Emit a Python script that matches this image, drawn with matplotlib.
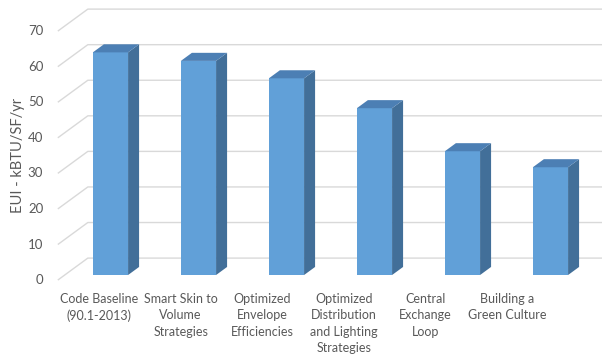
import numpy as np
import matplotlib
matplotlib.use("Agg")
import matplotlib.pyplot as plt
from matplotlib.patches import Polygon

categories = [
    "Code Baseline\n(90.1-2013)",
    "Smart Skin to\nVolume\nStrategies",
    "Optimized\nEnvelope\nEfficiencies",
    "Optimized\nDistribution\nand Lighting\nStrategies",
    "Central\nExchange\nLoop",
    "Building a\nGreen Culture",
]
eui = [62.6, 60.2, 55.3, 46.9, 34.8, 30.3]
yticks = [0, 10, 20, 30, 40, 50, 60, 70]
ylabel = "EUI - kBTU/SF/yr"

FRONT = "#61a0d8"
SIDE = "#426f99"
TOP = "#4c7fb4"
GRID = "#d9d9d9"
TEXT = "#595959"
FONT = "Lato"

# oblique depth of the floor, in data units, and where the bar fronts sit in it
DX, DY = 0.341, 6.18
TB = 0.23
BD = 0.367
W = 0.40
XL = -0.52


def proj(x, v, t):
    return x + DX * (t - TB), v + DY * (t - TB)


fig = plt.figure(figsize=(6.02, 3.58), dpi=100)
ax = fig.add_axes([0.0958, 0.2159, 0.9063, 0.766])
ax.set_xlim(-0.6, 5.6)
ax.set_ylim(-1.6, 75.5)
ax.axis("off")

# side wall + back wall gridlines
for v in yticks:
    x0, y0 = proj(XL, v, 0)
    x1, y1 = proj(XL, v, 1)
    ax.plot([x0, x1, 5.6], [y0, y1, y1], color=GRID, lw=1.0, zorder=1,
            solid_capstyle="butt", clip_on=False)
    ax.annotate(str(v), (x0, y0), xytext=(-10.5, 0), textcoords="offset points",
                ha="right", va="center", color=TEXT, fontsize=9.5,
                family=FONT, annotation_clip=False)

# bars: front faces, then side and top faces
xs = np.arange(len(eui))
ax.bar(xs, eui, width=W, color=FRONT, edgecolor="none", zorder=3)
ddx, ddy = DX * BD, DY * BD
for x, v in zip(xs, eui):
    r = x + W / 2
    l = x - W / 2
    side = Polygon([(r, 0), (r, v), (r + ddx, v + ddy), (r + ddx, ddy)],
                   closed=True, facecolor=SIDE, edgecolor="none", zorder=3)
    top = Polygon([(l, v), (r, v), (r + ddx, v + ddy), (l + ddx, v + ddy)],
                  closed=True, facecolor=TOP, edgecolor="none", zorder=3)
    ax.add_patch(side)
    ax.add_patch(top)

# category labels along the front edge of the floor
for i, lab in enumerate(categories):
    ax.annotate(lab, (-0.13 + 0.927 * i, -1.6), xytext=(0, -8.5),
                textcoords="offset points", ha="center", va="top",
                color=TEXT, fontsize=9, family=FONT, linespacing=1.45,
                annotation_clip=False)

fig.text(0.03, 0.567, ylabel, rotation=90, ha="center", va="center",
         color=TEXT, fontsize=10.5, family=FONT)

fig.savefig("out.png", dpi=100)
